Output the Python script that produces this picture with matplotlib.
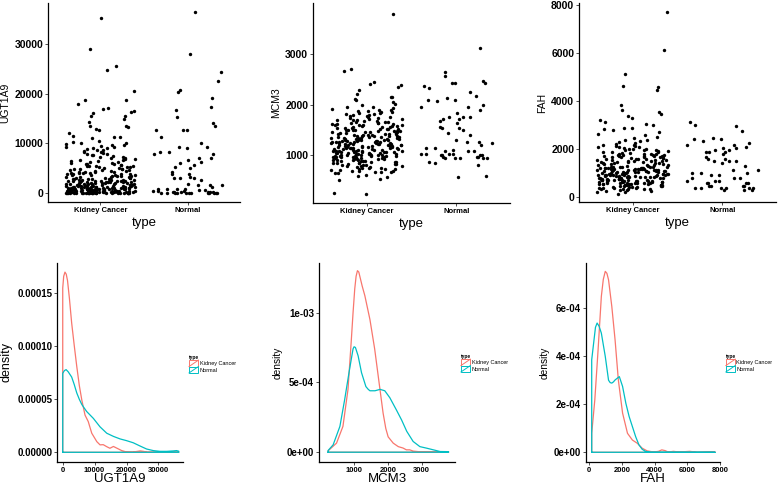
import numpy as np
import matplotlib
matplotlib.use('Agg')
import matplotlib.pyplot as plt
from matplotlib.patches import Rectangle, Patch
from matplotlib.lines import Line2D
from matplotlib.legend_handler import HandlerBase

plt.rcParams['font.family'] = ['Liberation Sans', 'DejaVu Sans']

GROUPS = ['Kidney Cancer', 'Normal']
GENES = ['UGT1A9', 'MCM3', 'FAH']
RED = '#F8766D'
TEAL = '#00BFC4'

# expression values
ugt_cancer = """
35200 29000 25500 24700 20600 18800 18700 18000 17100 17000 16500 16300 16200 15600 15500 15000
14400 13500 13400 13200 12800 12600 12000 11400 11300 11200 11000 10500 10200 10100 10000
9900 9700 9650 9500 9300 9100 9000 8800 8700 8500 8300 8200 8050 7900 7800 7600 7500 7300 7200
7050 6900 6800 6700 6500 6400 6300 6200 6100 6000 9200 8600 7700 7100 6600
5900 5820 5710 5600 5530 5400 5310 5220 5150 5010 4920 4800 4730 4610 4540 4420 4300 4240 4110
4010 3920 3840 3760 3630 3520 3450 3330 3210 3140 3020 5760 5350 4960 4650 4380 4060 3880 3570
3260 3080 5480 4870 4270 3720 3170 4460 3960 3410 3360 4150
2950 2900 2870 2810 2760 2700 2650 2610 2550 2500 2460 2400 2350 2310 2260 2200 2150 2110 2050
2000 1960 1910 1870 1820 1780 1730 1680 1640 1590 1550 1500 1460 1420 1380 1330 1290 1250 1210
1170 1130 1090 1050 1020 2980 2720 2430 2180 1940 1710 1520 1360 1190 1060 2580 2240 1810 1470
1240 2840 2070 2630 2390 2120 1890 1660 1440 1270 1110 2470 2030 1570 1310
980 950 920 890 860 830 800 770 740 710 680 650 620 590 560 530 500 470 440 410 380 350 320 290
260 230 200 170 140 110 80 50 30 10 0 0 960 870 760 640 540 430 330 240 150 70 20 5 910 720 520
310 120 40 0 850 610 390 180 60 990 930 810 690 570 450 340 270 190 130 90 45 15 0 0 0 940 780
660 480 360 210 100 25 0 0 880 700 510 280 160 35 0 0 0 0
"""
ugt_normal = """
36400 28000 24400 22500 20700 20400 19200 17300 16700 15300 14200 13500 12700 12700 12700 11350
10100 9300 9300 9000 8200 8200 7850 7850 7050 7050 6650 6250 6000 5600 5300 4950 4300 3770 3770
3300 3100 3100 3100 2620 1900 1600 1600 1600 1200 870 870 870 700 600 500 400 350 300 250 200 200
150 100 100 80 50 50 30 20 10 0 0 0 0 0 0
"""
mcm_cancer = """
3800 2700 2660 2450 2400 2380 2350 2290 2200 2150 2140 2100 2080 2050 2010 1990
230 250 500 520 560 590 610 640
1960 1940 1920 1900 1890 1870 1850 1840 1820 1800 1790 1770 1750 1740 1720 1700 1950 1880 1830
1780 1760 1730 1710 1860 1810
1690 1680 1660 1650 1640 1620 1610 1600 1590 1570 1560 1550 1540 1520 1510 1500 1490 1480 1470
1460 1450 1440 1430 1420 1410 1400 1670 1630 1580 1530 1490 1450 1410 1660 1600 1550 1510 1470
1430 1640 1570 1520 1480 1420 1590 1615 1535 1455 1685 1505
1390 1385 1370 1360 1350 1340 1330 1320 1310 1300 1290 1280 1270 1260 1250 1240 1230 1220 1210
1200 1190 1180 1170 1160 1150 1140 1130 1120 1110 1100 1380 1355 1325 1295 1265 1235 1205 1175
1145 1115 1370 1340 1310 1280 1250 1220 1190 1160 1130 1105 1395 1305 1215 1125 1345 1255 1165
1275 1185 1235 1362 1318 1272 1228 1182 1138 1392 1248 1152 1336 1288 1196 1108 1376 1262 1142
1098 1082 1072 1063 1052 1044 1036 1026 1014 1003 994 984 975 962 953 944
1095 1080 1070 1060 1050 1040 1030 1020 1010 1000 990 980 970 960 950 940 930 920 910 900 890
880 870 860 850 840 830 820 810 800 1085 1045 1005 965 925 885 845 805 1065 1025 985 945 905 865
825 1075 995 915 835 1055 975 895 1035 955 875
790 780 770 760 750 740 730 720 710 700 690 680 670 660 650 775 745 715 685 655
"""
mcm_normal = """
3110 2640 2560 2470 2420 2420 2420 2370 2320 2240 2170 2130 2090 2090 2070 2000 1960 1960 1900
1830 1750 1750 1750 1710 1710 1670 1630 1560 1530 1530 1500 1430 1400 1300 1260 1260 1230 1190
1130 1130 1100 1070 1070 1070 1030 1030 1030 1030 1000 1000 1000 1000 970 970 970 935 935 935 935
935 860 835 800 590 560
"""
fah_cancer = """
7700 6150 5150 4650 4600 4450 3850 3650 3550 3450 3400 3300 3200 3150 3050 3000 2900 2900 2850
2800 2700 2650 2600 2500 2450 2400 2400 2350 2300 2250
2200 2180 2150 2120 2100 2080 2050 2030 2000 1980 1960 1940 1920 1900 1880 1860 1840 1820 1800
2170 2090 2010 1950 1870 1810
1790 1770 1750 1730 1710 1690 1670 1650 1630 1610 1590 1570 1550 1530 1510 1490 1470 1450 1430
1410 1390 1370 1350 1330 1310 1780 1740 1700 1660 1620 1580 1540 1500 1460 1420 1380 1340 1760
1680 1600 1520 1440 1360 1720 1560
1290 1280 1270 1260 1250 1240 1230 1220 1210 1200 1190 1180 1170 1160 1150 1140 1130 1120 1110
1100 1090 1080 1070 1060 1050 1040 1030 1020 1010 1000 990 980 970 960 950 940 930 920 910 900
890 880 870 860 850 840 830 820 810 800 1275 1225 1175 1125 1075 1025 975 925 875 825 1245 1145
1045 945 845 1262 1212 1162 1112 1062 1012 962 912 862 812 1188 1088 988 888 1138 1038 938
790 780 770 760 750 740 730 720 710 700 690 680 670 660 650 640 630 620 610 600 590 580 570 560
550 540 530 520 510 500 480 460 440 420 400 380 360 340 320 300 785 735 685 635 585 535 485 435
385 335 755 655 555 455 355 765 705 645 575 505 445 395 345 725 615 495
280 260 240 220 150
"""
fah_normal = """
3150 3010 2970 2760 2460 2420 2420 2360 2250 2180 2180 2110 2040 2040 1970 1970 1870 1870 1870
1790 1690 1600 1600 1500 1500 1500 1420 1300 1140 1140 1030 1030 1030 930 930 790 790 790 690
690 690 580 580 580 580 470 470 470 470 370 370 370 370 370 370 300 300 300
"""

# density curves
ugt_dens_x_cancer = [0, 300, 700, 1100, 1500, 2100, 2800, 3600, 4400, 5200, 6000, 7000, 8000, 9100,
                     10700, 11700, 12700, 13800, 14800, 15900, 16900, 18500, 20000, 22000, 24300,
                     25300, 26500, 30000, 35000, 36400]
ugt_dens_y_cancer = [15.5, 16.6, 17.0, 16.8, 16.2, 14.5, 12.2, 10.1, 8.1, 6.3, 4.9, 3.5, 2.9, 1.8,
                     1.0, 0.7, 0.72, 0.53, 0.38, 0.55, 0.4, 0.16, 0.03, 0.02, 0.13,
                     0.09, 0.01, 0.01, 0.02, 0.0]
ugt_dens_x_normal = [0, 500, 1050, 1700, 2800, 3600, 4400, 5200, 6000, 7500, 9600, 11700, 13800,
                     15900, 18000, 20000, 22100, 24200, 26300, 28400, 30500, 32600, 34700, 35700,
                     36400]
ugt_dens_y_normal = [7.45, 7.7, 7.8, 7.6, 7.1, 6.4, 5.6, 5.0, 4.5, 3.85, 3.2, 2.4, 1.8,
                     1.5, 1.26, 1.1, 0.9, 0.6, 0.31, 0.16, 0.09, 0.09, 0.13, 0.16,
                     0.1]

mcm_dens_x_cancer = [230, 480, 670, 820, 920, 970, 1020, 1060, 1100, 1140, 1170, 1240, 1320, 1470,
                     1610, 1740, 1860, 1940, 2010, 2160, 2310, 2450, 2550, 2650, 2750, 2950, 3400,
                     3800]
mcm_dens_y_cancer = [0.1, 0.65, 1.85, 4.5, 8.1, 10.0, 11.7, 12.6, 13.0, 12.9, 12.6, 11.9, 11.2, 9.5,
                     7.4, 5.0, 2.8, 1.7, 1.1, 0.65, 0.4, 0.3, 0.17, 0.17, 0.08, 0.03, 0.01,
                     0.01]
mcm_dens_x_normal = [230, 380, 580, 720, 850, 920, 970, 1000, 1040, 1080, 1120, 1220, 1350, 1420,
                     1470, 1620, 1770, 1910, 2060, 2260, 2410, 2560, 2750, 2950, 3150, 3350, 3550,
                     3800]
mcm_dens_y_normal = [0.12, 0.53, 1.85, 3.75, 5.7, 6.7, 7.4, 7.55, 7.5, 7.2, 6.9, 5.7, 4.7, 4.5,
                     4.4, 4.4, 4.5, 4.4, 3.9, 3.0, 2.3, 1.5, 0.77, 0.4, 0.29, 0.17, 0.05,
                     0.04]

fah_dens_x_cancer = [150, 340, 540, 740, 860, 980, 1080, 1180, 1380, 1580, 1780, 2040, 2340, 2640,
                     2940, 3240, 3540, 3940, 4240, 4440, 4640, 4840, 5150, 5500, 6150, 6600, 7700]
fah_dens_y_cancer = [0.79, 2.18, 4.26, 6.49, 7.2, 7.53, 7.45, 7.18, 6.07, 4.68, 3.01, 1.63, 0.79,
                     0.51, 0.375, 0.17, 0.06, 0.01, 0.04, 0.1, 0.07, 0.01, 0.04, 0.01, 0.04, 0.0,
                     0.02]
fah_dens_x_normal = [150, 380, 480, 600, 740, 980, 1180, 1280, 1380, 1480, 1580, 1840, 2040, 2240,
                     2440, 2640, 2840, 3040, 3240, 3440, 3740, 7700]
fah_dens_y_normal = [3.85, 5.2, 5.38, 5.25, 4.96, 3.99, 3.0, 2.9, 2.88, 2.93, 3.01, 3.15, 2.74,
                     2.04, 1.49, 1.07, 0.65, 0.31, 0.125, 0.04, 0.0, 0.0]


def vals(s):
    return np.array(s.split(), dtype=float)


def jitter(n, shift):
    # deterministic spread across +-0.4 (geom_jitter width), quadratic Weyl sequence
    i = np.arange(n) + shift
    return ((i * i * 0.7548776662 + i * 0.5698402910) % 1.0 - 0.5) * 0.8


class DensityKey(HandlerBase):
    def create_artists(self, legend, orig_handle, xdescent, ydescent, width, height, fontsize, trans):
        c = orig_handle.get_edgecolor()
        box = Rectangle((-xdescent, -ydescent), width, height, fill=False, edgecolor=c,
                        lw=0.7, transform=trans)
        diag = Line2D([-xdescent, -xdescent + width], [-ydescent, -ydescent + height],
                      color=c, lw=0.7, transform=trans)
        return [box, diag]


def style(ax):
    for s in ['top', 'right']:
        ax.spines[s].set_visible(False)
    for s in ['left', 'bottom']:
        ax.spines[s].set_linewidth(0.9)
        ax.spines[s].set_color('black')
    ax.tick_params(length=2, width=0.6, color='#333333', pad=1.5)
    ax.patch.set_alpha(0)


def draw_density(ax, xs, ys, color):
    x = np.r_[xs[0], xs, xs[-1], xs[0]]
    y = np.r_[0, ys, 0, 0]
    ax.plot(x, y, color=color, lw=0.9, solid_joinstyle='round')


fig = plt.figure(figsize=(7.78, 4.86), dpi=100)

# ---------- jitter plots ----------
scatter_data = [(vals(ugt_cancer), vals(ugt_normal)),
                (vals(mcm_cancer), vals(mcm_normal)),
                (vals(fah_cancer), vals(fah_normal))]
top_pos = [[0.0617, 0.5844, 0.2468, 0.4095],
           [0.4023, 0.5823, 0.2532, 0.4115],
           [0.7442, 0.5844, 0.2532, 0.4095]]
top_ylim = [(-1820, 38300), (50, 4010), (-196, 8096)]
top_yticks = [[0, 10000, 20000, 30000], [1000, 2000, 3000], [0, 2000, 4000, 6000, 8000]]

for i, gene in enumerate(GENES):
    ax = fig.add_axes(top_pos[i])
    cancer, normal = scatter_data[i]
    ax.scatter(1 + jitter(len(cancer), 3 + 5 * i), cancer, s=6, c='black', linewidths=0)
    ax.scatter(2 + jitter(len(normal), 11 + 7 * i), normal, s=6, c='black', linewidths=0)
    ax.set_xlim(0.4, 2.6)
    ax.set_ylim(*top_ylim[i])
    ax.set_xticks([1, 2])
    ax.set_xticklabels(GROUPS, fontsize=5.5, fontweight='bold')
    ax.set_yticks(top_yticks[i])
    ax.set_yticklabels([str(t) for t in top_yticks[i]], fontsize=7.5, fontweight='bold')
    ax.set_xlabel('type', fontsize=9.5, labelpad=2)
    ax.set_ylabel(gene, fontsize=7.5, labelpad=3)
    style(ax)

# ---------- density plots ----------
dens = [((ugt_dens_x_cancer, np.array(ugt_dens_y_cancer) * 1e-5),
         (ugt_dens_x_normal, np.array(ugt_dens_y_normal) * 1e-5)),
        ((mcm_dens_x_cancer, np.array(mcm_dens_y_cancer) * 1e-4),
         (mcm_dens_x_normal, np.array(mcm_dens_y_normal) * 1e-4)),
        ((fah_dens_x_cancer, np.array(fah_dens_y_cancer) * 1e-4),
         (fah_dens_x_normal, np.array(fah_dens_y_normal) * 1e-4))]
bot_pos = [[0.0733, 0.0494, 0.1620, 0.4095],
           [0.4100, 0.0494, 0.1748, 0.4095],
           [0.7532, 0.0494, 0.1722, 0.4095]]
bot_xlim = [(-1790, 37740), (-40, 3990), (-200, 7850)]
bot_ylim = [(-9.15e-6, 1.786e-4), (-7e-5, 1.355e-3), (-4.04e-5, 7.88e-4)]
bot_xticks = [[0, 10000, 20000, 30000], [1000, 2000, 3000], [0, 2000, 4000, 6000, 8000]]
bot_yticks = [[0, 5e-5, 1e-4, 1.5e-4], [0, 5e-4, 1e-3], [0, 2e-4, 4e-4, 6e-4]]
bot_ylabels = [['0.00000', '0.00005', '0.00010', '0.00015'],
               ['0e+00', '5e-04', '1e-03'],
               ['0e+00', '2e-04', '4e-04', '6e-04']]
dens_label_size = [9, 7.3, 7.3]
legend_anchor = [(0.243, 0.251), (0.5925, 0.253), (0.933, 0.253)]

for i, gene in enumerate(GENES):
    ax = fig.add_axes(bot_pos[i])
    (xc, yc), (xn, yn) = dens[i]
    draw_density(ax, xc, yc, RED)
    draw_density(ax, xn, yn, TEAL)
    ax.set_xlim(*bot_xlim[i])
    ax.set_ylim(*bot_ylim[i])
    ax.set_xticks(bot_xticks[i])
    ax.set_xticklabels([str(t) for t in bot_xticks[i]], fontsize=5.5, fontweight='bold')
    ax.set_yticks(bot_yticks[i])
    ax.set_yticklabels(bot_ylabels[i], fontsize=7, fontweight='bold')
    ax.set_xlabel(gene, fontsize=9.5, labelpad=-0.5)
    ax.set_ylabel('density', fontsize=dens_label_size[i], labelpad=3)
    style(ax)

    handles = [Patch(edgecolor=RED, facecolor='none', label=GROUPS[0]),
               Patch(edgecolor=TEAL, facecolor='none', label=GROUPS[1])]
    fig.legend(handles=handles, title='type', loc='center left',
               bbox_to_anchor=legend_anchor[i], frameon=False, fontsize=4,
               title_fontproperties={'size': 3.5, 'weight': 'bold'},
               handlelength=1.7, handleheight=1.4, labelspacing=0.0,
               handletextpad=0.2, borderpad=0, borderaxespad=0,
               alignment='left', handler_map={Patch: DensityKey()})

fig.savefig('out.png', dpi=100)
